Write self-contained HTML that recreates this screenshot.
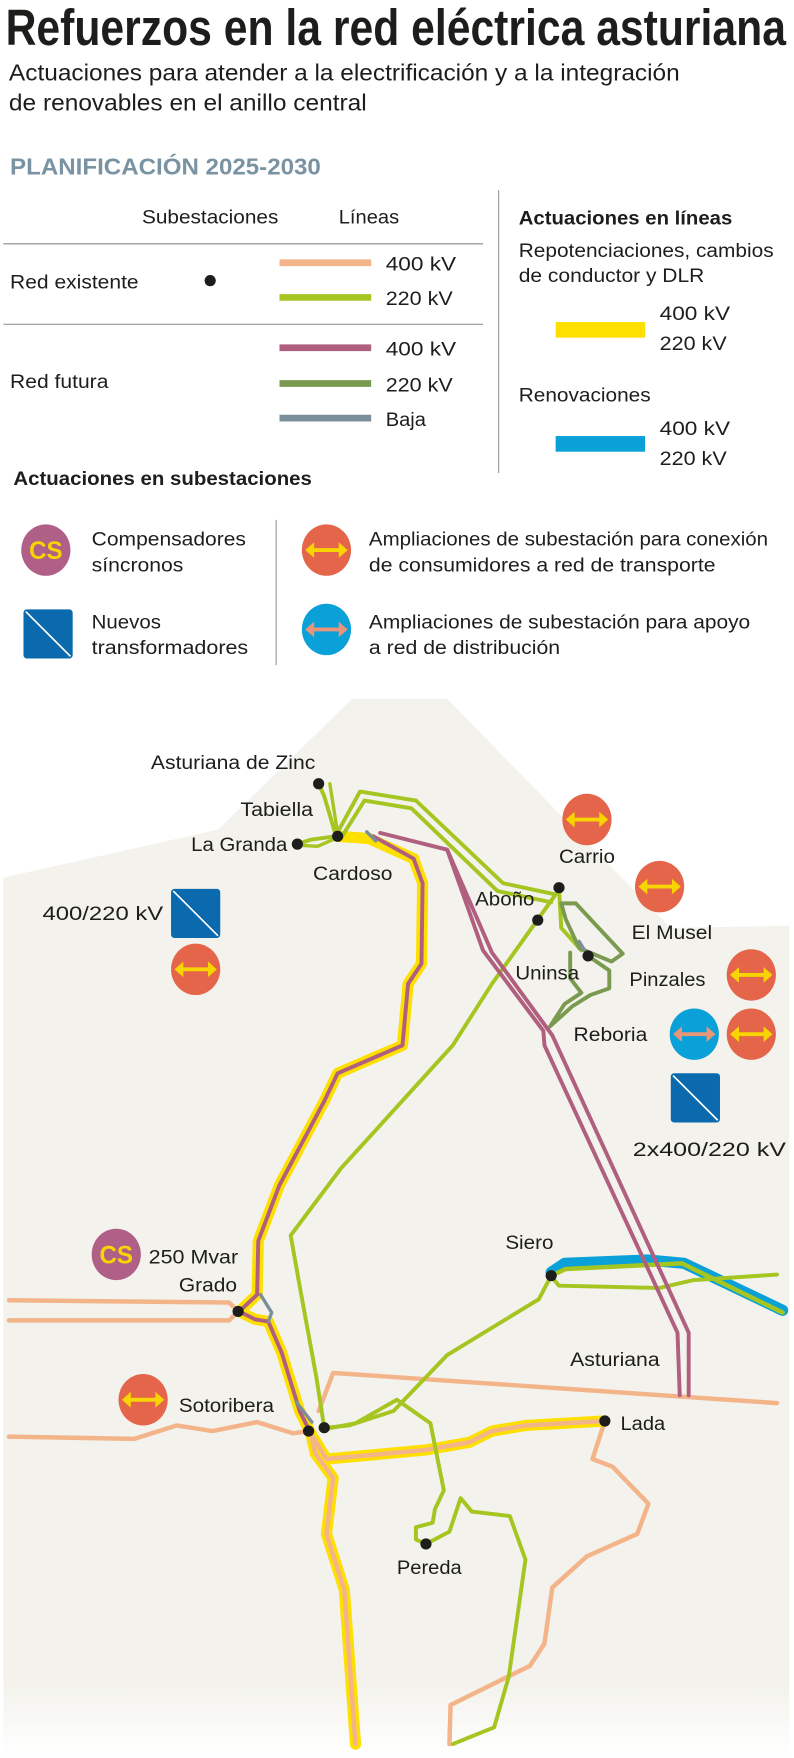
<!DOCTYPE html>
<html><head><meta charset="utf-8"><style>
html,body{margin:0;padding:0;background:#fff}
svg{display:block}
text{font-family:"Liberation Sans",sans-serif;fill:#1d1d1b}
.b{font-weight:bold}
.l{font-size:17px}
</style></head><body>
<svg width="794" height="1758" viewBox="0 0 710.2 1572.4" xmlns="http://www.w3.org/2000/svg">
<defs>
<linearGradient id="fade" x1="0" y1="0" x2="0" y2="1">
<stop offset="0" stop-color="#f3f2ec"/><stop offset="0.93" stop-color="#f3f2ec"/><stop offset="1" stop-color="#ffffff"/>
</linearGradient>
<g id="oarr"><ellipse cx="0" cy="0" rx="22" ry="23" fill="#e4654a"/><path d="M-15 0H15" stroke="#f8d400" stroke-width="3.5"/><path d="M-19 0L-11 -7V7Z M19 0L11 -7V7Z" fill="#f8d400"/></g>
<g id="barr"><ellipse cx="0" cy="0" rx="22" ry="23" fill="#0aa0d8"/><path d="M-15 0H15" stroke="#e8957a" stroke-width="3.5"/><path d="M-19 0L-11 -7V7Z M19 0L11 -7V7Z" fill="#e8957a"/></g>
<g id="sq"><rect x="0" y="0" width="44" height="44" rx="3" fill="#0a6aad"/><path d="M2 2L42 42" stroke="#fff" stroke-width="1.5"/></g>
<g id="cs"><ellipse cx="0" cy="0" rx="22" ry="23" fill="#b05f86"/><text x="0" y="8" text-anchor="middle" class="b" style="font-size:22px;fill:#f8d400" textLength="30" lengthAdjust="spacingAndGlyphs">CS</text></g>
</defs>

<!-- header -->
<text x="5" y="40" class="b" style="font-size:46px" textLength="698" lengthAdjust="spacingAndGlyphs">Refuerzos en la red eléctrica asturiana</text>
<text x="8" y="72" style="font-size:21px" textLength="600" lengthAdjust="spacingAndGlyphs">Actuaciones para atender a la electrificación y a la integración</text>
<text x="8" y="99" style="font-size:21px" textLength="320" lengthAdjust="spacingAndGlyphs">de renovables en el anillo central</text>
<text x="9" y="156" class="b" style="font-size:21px;fill:#7a93a3" textLength="278" lengthAdjust="spacingAndGlyphs">PLANIFICACIÓN 2025-2030</text>

<!-- legend -->
<text x="127" y="200" class="l" textLength="122" lengthAdjust="spacingAndGlyphs">Subestaciones</text>
<text x="303" y="200" class="l" textLength="54" lengthAdjust="spacingAndGlyphs">Líneas</text>
<line x1="3" y1="218" x2="432" y2="218" stroke="#888" stroke-width="1"/>
<line x1="3" y1="290" x2="432" y2="290" stroke="#888" stroke-width="1"/>
<line x1="446" y1="170" x2="446" y2="423" stroke="#999" stroke-width="1"/>
<text x="9" y="258" class="l" textLength="115" lengthAdjust="spacingAndGlyphs">Red existente</text>
<circle cx="188" cy="251" r="5" fill="#1d1d1b"/>
<line x1="250" y1="235" x2="332" y2="235" stroke="#f4b48a" stroke-width="6"/>
<line x1="250" y1="266" x2="332" y2="266" stroke="#a5c520" stroke-width="6"/>
<text x="345" y="242" class="l" textLength="63" lengthAdjust="spacingAndGlyphs">400 kV</text>
<text x="345" y="273" class="l" textLength="60" lengthAdjust="spacingAndGlyphs">220 kV</text>
<text x="9" y="347" class="l" textLength="88" lengthAdjust="spacingAndGlyphs">Red futura</text>
<line x1="250" y1="311" x2="332" y2="311" stroke="#b05f7f" stroke-width="6"/>
<line x1="250" y1="343" x2="332" y2="343" stroke="#7a9a50" stroke-width="6"/>
<line x1="250" y1="374" x2="332" y2="374" stroke="#7b8f9a" stroke-width="6"/>
<text x="345" y="318" class="l" textLength="63" lengthAdjust="spacingAndGlyphs">400 kV</text>
<text x="345" y="350" class="l" textLength="60" lengthAdjust="spacingAndGlyphs">220 kV</text>
<text x="345" y="381" class="l" textLength="36" lengthAdjust="spacingAndGlyphs">Baja</text>

<text x="464" y="201" class="l b" textLength="191" lengthAdjust="spacingAndGlyphs">Actuaciones en líneas</text>
<text x="464" y="230" class="l" textLength="228" lengthAdjust="spacingAndGlyphs">Repotenciaciones, cambios</text>
<text x="464" y="252" class="l" textLength="166" lengthAdjust="spacingAndGlyphs">de conductor y DLR</text>
<rect x="497" y="288" width="80" height="14" fill="#fde000"/>
<text x="590" y="286" class="l" textLength="63" lengthAdjust="spacingAndGlyphs">400 kV</text>
<text x="590" y="313" class="l" textLength="60" lengthAdjust="spacingAndGlyphs">220 kV</text>
<text x="464" y="359" class="l" textLength="118" lengthAdjust="spacingAndGlyphs">Renovaciones</text>
<rect x="497" y="390" width="80" height="14" fill="#0aa0d8" />
<text x="590" y="389" class="l" textLength="63" lengthAdjust="spacingAndGlyphs">400 kV</text>
<text x="590" y="416" class="l" textLength="60" lengthAdjust="spacingAndGlyphs">220 kV</text>

<text x="12" y="434" class="l b" textLength="267" lengthAdjust="spacingAndGlyphs">Actuaciones en subestaciones</text>
<use href="#cs" x="41" y="492"/>
<text x="82" y="488" class="l" textLength="138" lengthAdjust="spacingAndGlyphs">Compensadores</text>
<text x="82" y="511" class="l" textLength="82" lengthAdjust="spacingAndGlyphs">síncronos</text>
<line x1="247" y1="465" x2="247" y2="595" stroke="#999" stroke-width="1"/>
<use href="#oarr" x="292" y="492"/>
<text x="330" y="488" class="l" textLength="357" lengthAdjust="spacingAndGlyphs">Ampliaciones de subestación para conexión</text>
<text x="330" y="511" class="l" textLength="310" lengthAdjust="spacingAndGlyphs">de consumidores a red de transporte</text>
<use href="#sq" x="21" y="545"/>
<text x="82" y="562" class="l" textLength="62" lengthAdjust="spacingAndGlyphs">Nuevos</text>
<text x="82" y="585" class="l" textLength="140" lengthAdjust="spacingAndGlyphs">transformadores</text>
<use href="#barr" x="292" y="563"/>
<text x="330" y="562" class="l" textLength="341" lengthAdjust="spacingAndGlyphs">Ampliaciones de subestación para apoyo</text>
<text x="330" y="585" class="l" textLength="171" lengthAdjust="spacingAndGlyphs">a red de distribución</text>

<!-- map background -->
<path d="M3 785 L195 742 L315 625 L400 625 L600 830 L706 828 L706 1572 L3 1572 Z" fill="url(#fade)"/>

<g fill="none" stroke-linejoin="round" stroke-linecap="round">
<!-- existing 400 orange -->
<path d="M8 1163 L205 1165 L213 1173" stroke="#f4b48a" stroke-width="4"/>
<path d="M8 1181 L205 1181 L213 1173" stroke="#f4b48a" stroke-width="4"/>
<path d="M8 1285 L120 1287 L158 1275 L190 1280 L230 1272 L262 1282 L276 1280" stroke="#f4b48a" stroke-width="4"/>
<path d="M285 1262 L298 1228 L695 1255" stroke="#f4b48a" stroke-width="4"/>
<path d="M541 1271 L530 1305 L548 1312 L580 1345 L570 1372 L525 1392 L494 1420 L487 1470 L474 1490 L403 1525 L402 1560" stroke="#f4b48a" stroke-width="4"/>

<!-- yellow repotenciaciones -->
<path d="M302 748 L330 750 L370 768 L378 790 L377 862 L365 880 L360 935 L302 960 L290 985 L250 1060 L231 1110 L230 1158 L214 1173 L228 1180 L240 1182 L252 1210 L268 1262 L278 1282 L282 1300 L298 1322 L292 1372 L308 1422 L318 1560" stroke="#fde000" stroke-width="10"/>
<path d="M278 1282 L292 1305 L380 1297 L420 1290 L440 1280 L470 1275 L541 1271" stroke="#fde000" stroke-width="10"/>
<path d="M278 1282 L292 1305 L380 1297 L420 1290 L440 1280 L470 1275 L541 1271" stroke="#f4b48a" stroke-width="4"/>
<path d="M278 1282 L282 1300 L298 1322 L292 1372 L308 1422 L318 1560" stroke="#f4b48a" stroke-width="4"/>
<!-- blue renovación -->
<path d="M493 1138 L505 1130 L580 1127 L612 1130 L700 1172" stroke="#0aa0d8" stroke-width="10"/>

<!-- existing 220 green -->
<path d="M300 748 L322 708 L372 716 L450 790 L497 800" stroke="#a5c520" stroke-width="3.5"/>
<path d="M306 748 L326 716 L368 723 L445 797 L493 807" stroke="#a5c520" stroke-width="3.5"/>
<path d="M285 701 L290 712 L300 746" stroke="#a5c520" stroke-width="3.5"/>
<path d="M295 701 L302 745" stroke="#a5c520" stroke-width="3"/>
<path d="M266 755 L278 751 L300 748" stroke="#a5c520" stroke-width="3.5"/>
<path d="M266 756 L284 757 L300 750" stroke="#a5c520" stroke-width="3"/>
<path d="M497 800 L440 880 L405 935 L305 1045 L260 1105 L268 1150 L283 1232 L290 1277" stroke="#a5c520" stroke-width="3.5"/>
<path d="M500 794 L502 830 L520 850" stroke="#a5c520" stroke-width="3.5"/>
<path d="M493 1141 L482 1162 L400 1212 L352 1262 L312 1275 L292 1277" stroke="#a5c520" stroke-width="3.5"/>
<path d="M493 1141 L506 1135 L610 1130 L700 1174" stroke="#a5c520" stroke-width="4"/>
<path d="M495 1144 L500 1150 L590 1152 L620 1145 L695 1140" stroke="#a5c520" stroke-width="3.5"/>
<path d="M292 1278 L318 1273 L355 1252 L385 1273 L397 1333 L389 1350 L387 1362 L372 1366 L372 1377 L381 1381 L402 1370 L412 1340 L422 1352 L456 1356 L470 1395 L455 1500 L442 1545 L405 1560" stroke="#a5c520" stroke-width="3.5"/>

<!-- future 220 dark green -->
<path d="M502 808 L515 808 L557 853 L547 860 L518 848 L506 822 Z" stroke="#7a9a50" stroke-width="3.5"/>
<path d="M526 855 L545 868 L545 884 L528 890 L512 900 L492 918 L505 898 L520 888 L510 875 L510 852" stroke="#7a9a50" stroke-width="3.5"/>

<!-- future 400 purple -->
<path d="M340 745 L400 760 L432 850 L486 922 L487 935 L606 1192 L608 1248" stroke="#b05f7f" stroke-width="3.5"/>
<path d="M400 760 L440 852 L494 926 L616 1192 L616 1248" stroke="#b05f7f" stroke-width="3.5"/>
<path d="M334 748 L370 768 L378 790 L377 862 L365 880 L360 935 L302 960 L290 985 L250 1060 L231 1110 L230 1158 L214 1173 L228 1180 L240 1182 L252 1210 L268 1262 L278 1282" stroke="#b05f7f" stroke-width="3.5"/>

<!-- baja gray -->
<path d="M328 744 L336 752" stroke="#7b8f9a" stroke-width="3"/>
<path d="M233 1158 L243 1174 L240 1182" stroke="#7b8f9a" stroke-width="3"/>
<path d="M265 1254 L279 1272" stroke="#7b8f9a" stroke-width="3"/>
<path d="M518 842 L526 855" stroke="#7b8f9a" stroke-width="3"/>
</g>

<!-- nodes -->
<g fill="#1d1d1b">
<circle cx="285" cy="701" r="5"/><circle cx="266" cy="755" r="5"/><circle cx="302" cy="748" r="5"/>
<circle cx="500" cy="794" r="5"/><circle cx="481" cy="823" r="5"/><circle cx="526" cy="855" r="5"/>
<circle cx="213" cy="1173" r="5"/><circle cx="276" cy="1280" r="5"/><circle cx="290" cy="1277" r="5"/>
<circle cx="493" cy="1141" r="5"/><circle cx="541" cy="1271" r="5"/><circle cx="381" cy="1381" r="5"/>
</g>

<!-- map labels -->
<text x="135" y="688" class="l" textLength="147" lengthAdjust="spacingAndGlyphs">Asturiana de Zinc</text>
<text x="215" y="730" class="l" textLength="65" lengthAdjust="spacingAndGlyphs">Tabiella</text>
<text x="171" y="761" class="l" textLength="86" lengthAdjust="spacingAndGlyphs">La Granda</text>
<text x="280" y="787" class="l" textLength="71" lengthAdjust="spacingAndGlyphs">Cardoso</text>
<text x="500" y="772" class="l" textLength="50" lengthAdjust="spacingAndGlyphs">Carrio</text>
<text x="425" y="810" class="l" textLength="53" lengthAdjust="spacingAndGlyphs">Aboño</text>
<text x="565" y="840" class="l" textLength="72" lengthAdjust="spacingAndGlyphs">El Musel</text>
<text x="461" y="876" class="l" textLength="57" lengthAdjust="spacingAndGlyphs">Uninsa</text>
<text x="563" y="882" class="l" textLength="68" lengthAdjust="spacingAndGlyphs">Pinzales</text>
<text x="513" y="931" class="l" textLength="66" lengthAdjust="spacingAndGlyphs">Reboria</text>
<text x="566" y="1034" class="l" textLength="137" lengthAdjust="spacingAndGlyphs">2x400/220 kV</text>
<text x="38" y="823" class="l" textLength="108" lengthAdjust="spacingAndGlyphs">400/220 kV</text>
<text x="133" y="1130" class="l" textLength="80" lengthAdjust="spacingAndGlyphs">250 Mvar</text>
<text x="160" y="1155" class="l" textLength="52" lengthAdjust="spacingAndGlyphs">Grado</text>
<text x="160" y="1263" class="l" textLength="85" lengthAdjust="spacingAndGlyphs">Sotoribera</text>
<text x="452" y="1117" class="l" textLength="43" lengthAdjust="spacingAndGlyphs">Siero</text>
<text x="510" y="1222" class="l" textLength="80" lengthAdjust="spacingAndGlyphs">Asturiana</text>
<text x="555" y="1279" class="l" textLength="40" lengthAdjust="spacingAndGlyphs">Lada</text>
<text x="355" y="1408" class="l" textLength="58" lengthAdjust="spacingAndGlyphs">Pereda</text>

<!-- map icons -->
<use href="#oarr" x="525" y="733"/>
<use href="#oarr" x="590" y="793"/>
<use href="#oarr" x="672" y="872"/>
<use href="#barr" x="621" y="925"/>
<use href="#oarr" x="672" y="925"/>
<use href="#sq" x="600" y="960"/>
<use href="#sq" x="153" y="795"/>
<use href="#oarr" x="175" y="867"/>
<use href="#cs" x="104" y="1122"/>
<use href="#oarr" x="128" y="1252"/>
</svg>
</body></html>
